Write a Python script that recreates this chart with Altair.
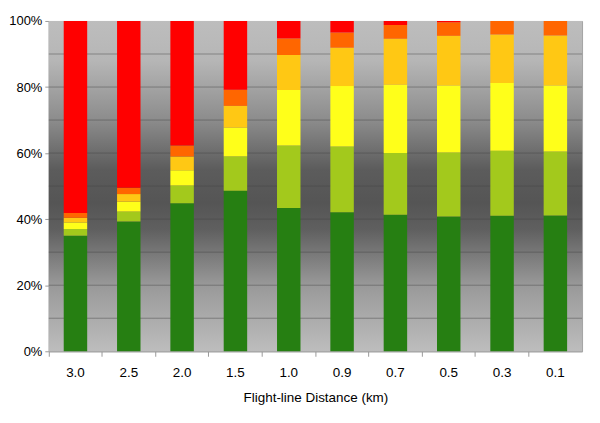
import altair as alt
import pandas as pd

categories = ["3.0", "2.5", "2.0", "1.5", "1.0", "0.9", "0.7", "0.5", "0.3", "0.1"]
series = ["s1", "s2", "s3", "s4", "s5", "s6"]
colors = ["#267f12", "#a3c91c", "#ffff1a", "#ffc814", "#ff6600", "#ff0000"]

s1 = [35.0, 39.3, 44.8, 48.6, 43.4, 42.1, 41.3, 40.8, 41.0, 41.1]
s2 = [2.0, 3.0, 5.4, 10.4, 18.9, 19.9, 18.7, 19.4, 19.7, 19.4]
s3 = [2.0, 3.0, 4.6, 8.7, 16.8, 18.3, 20.7, 20.3, 20.5, 20.0]
s4 = [1.4, 2.3, 4.2, 6.6, 10.6, 11.6, 13.9, 15.0, 14.7, 15.1]
s5 = [1.5, 1.9, 3.3, 4.9, 5.0, 4.6, 4.2, 4.1, 4.1, 4.4]
s6 = [58.1, 50.5, 37.7, 20.8, 5.3, 3.5, 1.2, 0.4, 0.0, 0.0]

grid_values = [0.1, 0.2, 0.3, 0.4, 0.5, 0.6, 0.7, 0.8, 0.9]
tick_values = [0.0, 0.2, 0.4, 0.6, 0.8, 1.0]

rows = []
for si, (name, vals) in enumerate(zip(series, [s1, s2, s3, s4, s5, s6])):
    for c, v in zip(categories, vals):
        rows.append({"dist": c, "series": name, "order": si, "value": v})
df = pd.DataFrame(rows)

W, H = 536, 332

gradient = alt.LinearGradient(
    gradient="linear", x1=0, y1=0, x2=0, y2=1,
    stops=[
        alt.GradientStop(offset=0.0, color="#bdbdbd"),
        alt.GradientStop(offset=0.12, color="#b6b6b6"),
        alt.GradientStop(offset=0.3, color="#8c8c8c"),
        alt.GradientStop(offset=0.45, color="#5c5c5c"),
        alt.GradientStop(offset=0.55, color="#555555"),
        alt.GradientStop(offset=0.63, color="#5f5f5f"),
        alt.GradientStop(offset=0.8, color="#999999"),
        alt.GradientStop(offset=1.0, color="#bdbdbd"),
    ],
)

background = alt.Chart(pd.DataFrame({"a": [0]})).mark_rect(color=gradient).encode(
    x=alt.value(0), x2=alt.value(W), y=alt.value(0), y2=alt.value(H)
)

grid = alt.Chart(pd.DataFrame({"g": grid_values})).mark_rule(
    color="#444444", opacity=0.45, strokeWidth=1
).encode(y=alt.Y("g:Q"))

bars = alt.Chart(df).mark_bar(width=alt.RelativeBandSize(0.44)).encode(
    x=alt.X("dist:N", sort=categories,
            scale=alt.Scale(paddingInner=0, paddingOuter=0),
            axis=alt.Axis(title="Flight-line Distance (km)", labelAngle=0,
                          bandPosition=0, tickSize=5, tickColor="#999999",
                          domainColor="#999999", labelPadding=9,
                          labelFontSize=13.5, titleFontSize=13.5,
                          titleFontWeight="normal", titlePadding=12,
                          grid=False)),
    y=alt.Y("value:Q", stack="normalize",
            scale=alt.Scale(domain=[0, 1]),
            axis=alt.Axis(title=None, values=tick_values, format=".0%",
                          tickSize=4, tickColor="#999999", labelPadding=3,
                          labelFontSize=13, domain=True,
                          domainColor="#a0a0a0", grid=False)),
    color=alt.Color("series:N", scale=alt.Scale(domain=series, range=colors), legend=None),
    order=alt.Order("order:Q"),
)

chart = alt.layer(background, grid, bars).properties(
    width=W, height=H,
    autosize=alt.AutoSizeParams(type="none"),
    padding={"left": 41, "top": 12, "right": 10, "bottom": 60},
).configure_view(
    stroke="#a0a0a0", strokeWidth=1,
).configure_axis(
    labelFont="Liberation Sans", titleFont="Liberation Sans",
    labelColor="#000000", titleColor="#000000",
)

chart.save("out.html", embed_options={"renderer": "svg", "actions": False})
